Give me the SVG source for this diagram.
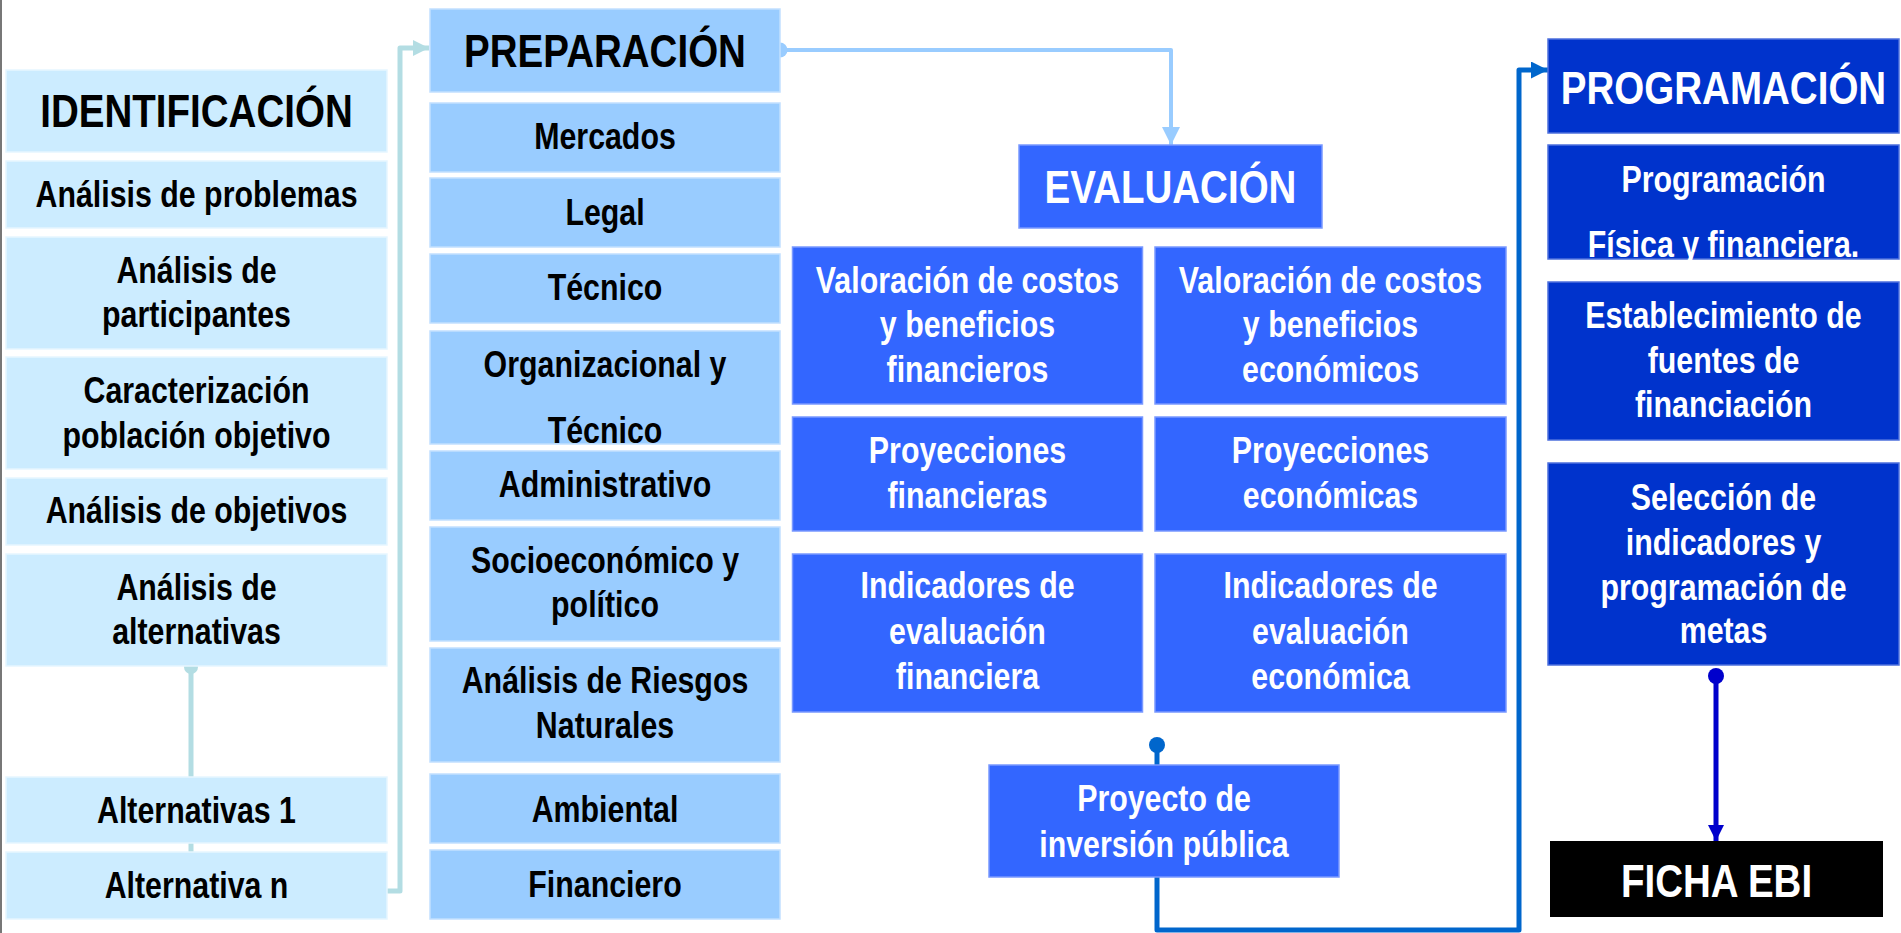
<svg xmlns="http://www.w3.org/2000/svg" width="1901" height="933" viewBox="0 0 1901 933">
<defs>
<style>
.t{font-family:"Liberation Sans",Arial,sans-serif;font-weight:bold;font-size:37px;text-anchor:middle;fill:#000}
.h{font-size:47px}
.w{fill:#fff}
.c1{fill:#ccecff;stroke:#e6f6ff;stroke-width:1.5}
.c2{fill:#99ccff;stroke:#c2e0ff;stroke-width:1.5}
.c3{fill:#3366ff;stroke:#7a99ff;stroke-width:1.5}
.c4{fill:#0033cc;stroke:#4d70dd;stroke-width:1.5}
.c5{fill:#000}
.ln{fill:none;stroke-linejoin:round}
</style>
<marker id="aT" viewBox="0 0 10 10" refX="10" refY="5" markerUnits="userSpaceOnUse" markerWidth="16" markerHeight="18" orient="auto"><path d="M0,0L10,5L0,10z" fill="#b3dde3"/></marker>
<marker id="aL" viewBox="0 0 10 10" refX="10" refY="5" markerUnits="userSpaceOnUse" markerWidth="18" markerHeight="18" orient="auto"><path d="M0,0L10,5L0,10z" fill="#99ccff"/></marker>
<marker id="aB" viewBox="0 0 10 10" refX="10" refY="5" markerUnits="userSpaceOnUse" markerWidth="17" markerHeight="17" orient="auto"><path d="M0,0L10,5L0,10z" fill="#0066cc"/></marker>
<marker id="aD" viewBox="0 0 10 10" refX="10" refY="5" markerUnits="userSpaceOnUse" markerWidth="16" markerHeight="17" orient="auto"><path d="M0,0L10,5L0,10z" fill="#0000cc"/></marker>
</defs>
<rect x="0" y="0" width="1901" height="933" fill="#fff"/>
<rect x="0" y="0" width="2" height="933" fill="#777"/>

<g id="connectors">
<path class="ln" d="M191,667V852" stroke="#b3dde3" stroke-width="5"/>
<circle cx="191" cy="667" r="7" fill="#b3dde3"/>
<path class="ln" d="M386,891H400V48H429" stroke="#b3dde3" stroke-width="5" marker-end="url(#aT)"/>
<circle cx="780" cy="50" r="7.5" fill="#99ccff"/>
<path class="ln" d="M780,50H1171V145" stroke="#99ccff" stroke-width="4" marker-end="url(#aL)"/>
<circle cx="1157" cy="745" r="8" fill="#0066cc"/>
<path class="ln" d="M1157,745V930H1519V70H1548" stroke="#0066cc" stroke-width="5" marker-end="url(#aB)"/>
<circle cx="1716" cy="676" r="8" fill="#0000cc"/>
<path class="ln" d="M1716,676V841" stroke="#0000cc" stroke-width="5" marker-end="url(#aD)"/>
</g>

<g id="identificacion"><rect class="c1" x="6" y="70" width="381" height="82"/><text class="t h" transform="translate(196.5 127) scale(0.82 1)">IDENTIFICACIÓN</text></g>
<g id="analisis-problemas"><rect class="c1" x="6" y="161" width="381" height="67"/><text class="t" transform="translate(196.5 207) scale(0.82 1)">Análisis de problemas</text></g>
<g id="analisis-participantes"><rect class="c1" x="6" y="237" width="381" height="112"/><text class="t" transform="translate(196.5 283) scale(0.82 1)">Análisis de</text><text class="t" transform="translate(196.5 327) scale(0.82 1)">participantes</text></g>
<g id="caracterizacion"><rect class="c1" x="6" y="357" width="381" height="112"/><text class="t" transform="translate(196.5 403) scale(0.82 1)">Caracterización</text><text class="t" transform="translate(196.5 448) scale(0.82 1)">población objetivo</text></g>
<g id="analisis-objetivos"><rect class="c1" x="6" y="478" width="381" height="67"/><text class="t" transform="translate(196.5 523) scale(0.82 1)">Análisis de objetivos</text></g>
<g id="analisis-alternativas"><rect class="c1" x="6" y="554" width="381" height="112"/><text class="t" transform="translate(196.5 600) scale(0.82 1)">Análisis de</text><text class="t" transform="translate(196.5 644) scale(0.82 1)">alternativas</text></g>
<g id="alternativas-1"><rect class="c1" x="6" y="777" width="381" height="66"/><text class="t" transform="translate(196.5 823) scale(0.82 1)">Alternativas 1</text></g>
<g id="alternativa-n"><rect class="c1" x="6" y="852" width="381" height="67"/><text class="t" transform="translate(196.5 898) scale(0.82 1)">Alternativa n</text></g>

<g id="preparacion"><rect class="c2" x="430" y="9" width="350" height="83"/><text class="t h" transform="translate(605 67) scale(0.82 1)">PREPARACIÓN</text></g>
<g id="mercados"><rect class="c2" x="430" y="103" width="350" height="69"/><text class="t" transform="translate(605 149) scale(0.82 1)">Mercados</text></g>
<g id="legal"><rect class="c2" x="430" y="178" width="350" height="69"/><text class="t" transform="translate(605 225) scale(0.82 1)">Legal</text></g>
<g id="tecnico"><rect class="c2" x="430" y="254" width="350" height="69"/><text class="t" transform="translate(605 300) scale(0.82 1)">Técnico</text></g>
<g id="organizacional"><rect class="c2" x="430" y="331" width="350" height="113"/><text class="t" transform="translate(605 377) scale(0.82 1)">Organizacional y</text><text class="t" transform="translate(605 443) scale(0.82 1)">Técnico</text></g>
<g id="administrativo"><rect class="c2" x="430" y="451" width="350" height="69"/><text class="t" transform="translate(605 497) scale(0.82 1)">Administrativo</text></g>
<g id="socioeconomico"><rect class="c2" x="430" y="527" width="350" height="114"/><text class="t" transform="translate(605 573) scale(0.82 1)">Socioeconómico y</text><text class="t" transform="translate(605 617) scale(0.82 1)">político</text></g>
<g id="riesgos"><rect class="c2" x="430" y="648" width="350" height="114"/><text class="t" transform="translate(605 693) scale(0.82 1)">Análisis de Riesgos</text><text class="t" transform="translate(605 738) scale(0.82 1)">Naturales</text></g>
<g id="ambiental"><rect class="c2" x="430" y="774" width="350" height="69"/><text class="t" transform="translate(605 822) scale(0.82 1)">Ambiental</text></g>
<g id="financiero"><rect class="c2" x="430" y="850" width="350" height="69"/><text class="t" transform="translate(605 897) scale(0.82 1)">Financiero</text></g>

<g id="evaluacion"><rect class="c3" x="1019" y="145" width="303" height="83"/><text class="t h w" transform="translate(1170.5 203) scale(0.82 1)">EVALUACIÓN</text></g>
<g id="val-financieros"><rect class="c3" x="792.5" y="247" width="350" height="157"/><text class="t w" transform="translate(967.5 293) scale(0.82 1)">Valoración de costos</text><text class="t w" transform="translate(967.5 337) scale(0.82 1)">y beneficios</text><text class="t w" transform="translate(967.5 382) scale(0.82 1)">financieros</text></g>
<g id="val-economicos"><rect class="c3" x="1155" y="247" width="351" height="157"/><text class="t w" transform="translate(1330.5 293) scale(0.82 1)">Valoración de costos</text><text class="t w" transform="translate(1330.5 337) scale(0.82 1)">y beneficios</text><text class="t w" transform="translate(1330.5 382) scale(0.82 1)">económicos</text></g>
<g id="proy-financieras"><rect class="c3" x="792.5" y="417" width="350" height="114"/><text class="t w" transform="translate(967.5 463) scale(0.82 1)">Proyecciones</text><text class="t w" transform="translate(967.5 508) scale(0.82 1)">financieras</text></g>
<g id="proy-economicas"><rect class="c3" x="1155" y="417" width="351" height="114"/><text class="t w" transform="translate(1330.5 463) scale(0.82 1)">Proyecciones</text><text class="t w" transform="translate(1330.5 508) scale(0.82 1)">económicas</text></g>
<g id="ind-financiera"><rect class="c3" x="792.5" y="554" width="350" height="158"/><text class="t w" transform="translate(967.5 598) scale(0.82 1)">Indicadores de</text><text class="t w" transform="translate(967.5 644) scale(0.82 1)">evaluación</text><text class="t w" transform="translate(967.5 689) scale(0.82 1)">financiera</text></g>
<g id="ind-economica"><rect class="c3" x="1155" y="554" width="351" height="158"/><text class="t w" transform="translate(1330.5 598) scale(0.82 1)">Indicadores de</text><text class="t w" transform="translate(1330.5 644) scale(0.82 1)">evaluación</text><text class="t w" transform="translate(1330.5 689) scale(0.82 1)">económica</text></g>
<g id="proyecto"><rect class="c3" x="989" y="765" width="350" height="112"/><text class="t w" transform="translate(1164 811) scale(0.82 1)">Proyecto de</text><text class="t w" transform="translate(1164 857) scale(0.82 1)">inversión pública</text></g>

<g id="programacion"><rect class="c4" x="1548" y="39" width="351" height="94"/><text class="t h w" transform="translate(1723.5 104) scale(0.82 1)">PROGRAMACIÓN</text></g>
<g id="prog-fisica"><rect class="c4" x="1548" y="145" width="351" height="114"/><text class="t w" transform="translate(1723.5 192) scale(0.82 1)">Programación</text><text class="t w" transform="translate(1723.5 257) scale(0.82 1)">Física y financiera.</text></g>
<g id="fuentes"><rect class="c4" x="1548" y="282" width="351" height="158"/><text class="t w" transform="translate(1723.5 328) scale(0.82 1)">Establecimiento de</text><text class="t w" transform="translate(1723.5 373) scale(0.82 1)">fuentes de</text><text class="t w" transform="translate(1723.5 417) scale(0.82 1)">financiación</text></g>
<g id="seleccion"><rect class="c4" x="1548" y="463" width="351" height="202"/><text class="t w" transform="translate(1723.5 510) scale(0.82 1)">Selección de</text><text class="t w" transform="translate(1723.5 555) scale(0.82 1)">indicadores y</text><text class="t w" transform="translate(1723.5 600) scale(0.82 1)">programación de</text><text class="t w" transform="translate(1723.5 643) scale(0.82 1)">metas</text></g>
<g id="ficha-ebi"><rect class="c5" x="1550" y="841" width="333" height="76"/><text class="t h w" transform="translate(1716.5 897) scale(0.82 1)">FICHA EBI</text></g>
</svg>
